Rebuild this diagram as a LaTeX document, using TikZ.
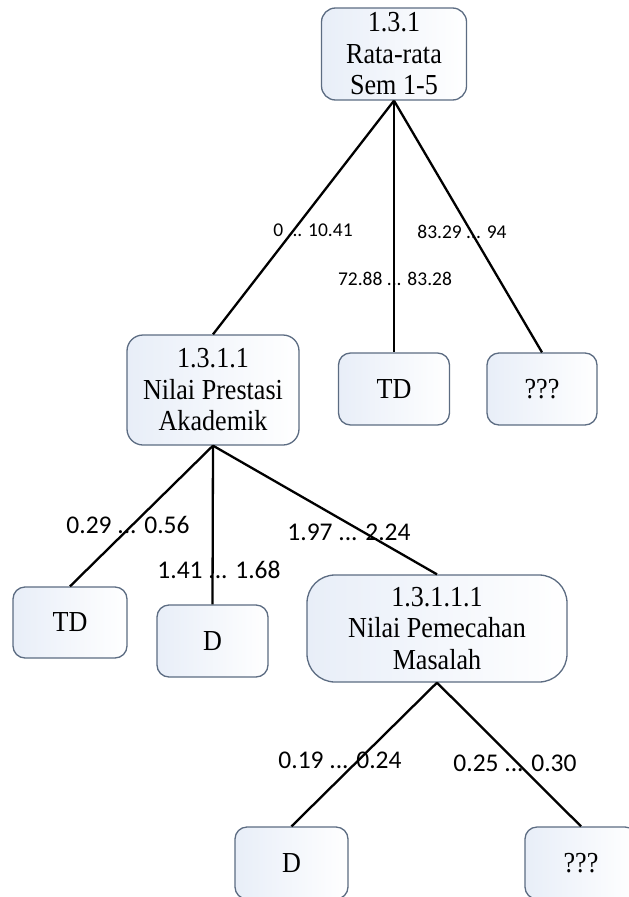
\documentclass[tikz,border=0pt]{standalone}
\usepackage{fontspec}
\newfontfamily\boxfont[FakeStretch=0.9]{Liberation Serif}
\newfontfamily\lblfont{Carlito}
\definecolor{boxtint}{RGB}{232,238,248}
\definecolor{boxedge}{RGB}{92,108,130}
\begin{document}
\begin{tikzpicture}[x=1pt,y=-1pt,
  treebox/.style={draw=boxedge, line width=1.3pt, rounded corners=12pt,
    left color=boxtint, right color=white, align=center, inner sep=0pt,
    font=\boxfont\fontsize{29}{31.5}\selectfont},
  smalllbl/.style={font=\lblfont\fontsize{19.5}{22}\selectfont, inner sep=0pt},
  rangelbl/.style={font=\lblfont\fontsize{25.5}{28}\selectfont, inner sep=0pt},
  branch/.style={line width=2.3pt, black}]
  \useasboundingbox (0,0) rectangle (629,897);

  % Boxes of the tree
  \node[treebox, rounded corners=14pt, minimum width=145pt, minimum height=92pt] (rata) at (394,54) {1.3.1\\Rata-rata\\Sem 1-5};
  \node[treebox, rounded corners=16pt, minimum width=172pt, minimum height=110pt] (prestasi) at (213,390) {1.3.1.1\\Nilai Prestasi\\Akademik};
  \node[treebox, minimum width=111pt, minimum height=72pt] (tdA) at (394,389) {TD};
  \node[treebox, minimum width=110pt, minimum height=72pt] (qA) at (542,389) {???};
  \node[treebox, minimum width=114pt, minimum height=71pt] (tdB) at (70,622.5) {TD};
  \node[treebox, minimum width=111pt, minimum height=72pt] (dB) at (212.5,641) {D};
  \node[treebox, rounded corners=28pt, minimum width=260pt, minimum height=107pt] (pemecahan) at (437,628.5) {1.3.1.1.1\\Nilai Pemecahan\\Masalah};
  \node[treebox, minimum width=113pt, minimum height=72pt] (dC) at (291.5,863) {D};
  \node[treebox, minimum width=112pt, minimum height=72pt] (qC) at (581,863) {???};

  % Ranges on the branches
  \node[smalllbl] (rgA) at (313,230) {0 ... 10.41};
  \node[smalllbl] (rgB) at (395,279) {72.88 ... 83.28};
  \node[smalllbl] (rgC) at (462,232) {83.29 ... 94};
  \node[rangelbl] (rgD) at (128,525) {0.29 ... 0.56};
  \node[rangelbl] (rgE) at (219,570) {1.41 ... 1.68};
  \node[rangelbl] (rgF) at (349,532) {1.97 ... 2.24};
  \node[rangelbl] (rgG) at (340,760) {0.19 ... 0.24};
  \node[rangelbl] (rgH) at (515,763) {0.25 ... 0.30};

  % Branches
  \draw[branch] (rata.south) -- (prestasi.north);
  \draw[branch] (rata.south) -- (tdA.north);
  \draw[branch] (rata.south) -- (qA.north);
  \draw[branch] (prestasi.south) -- (tdB.north);
  \draw[branch] (prestasi.south) -- (dB.north);
  \draw[branch] (prestasi.south) -- (pemecahan.north);
  \draw[branch] (pemecahan.south) -- (dC.north);
  \draw[branch] (pemecahan.south) -- (qC.north);
\end{tikzpicture}
\end{document}
